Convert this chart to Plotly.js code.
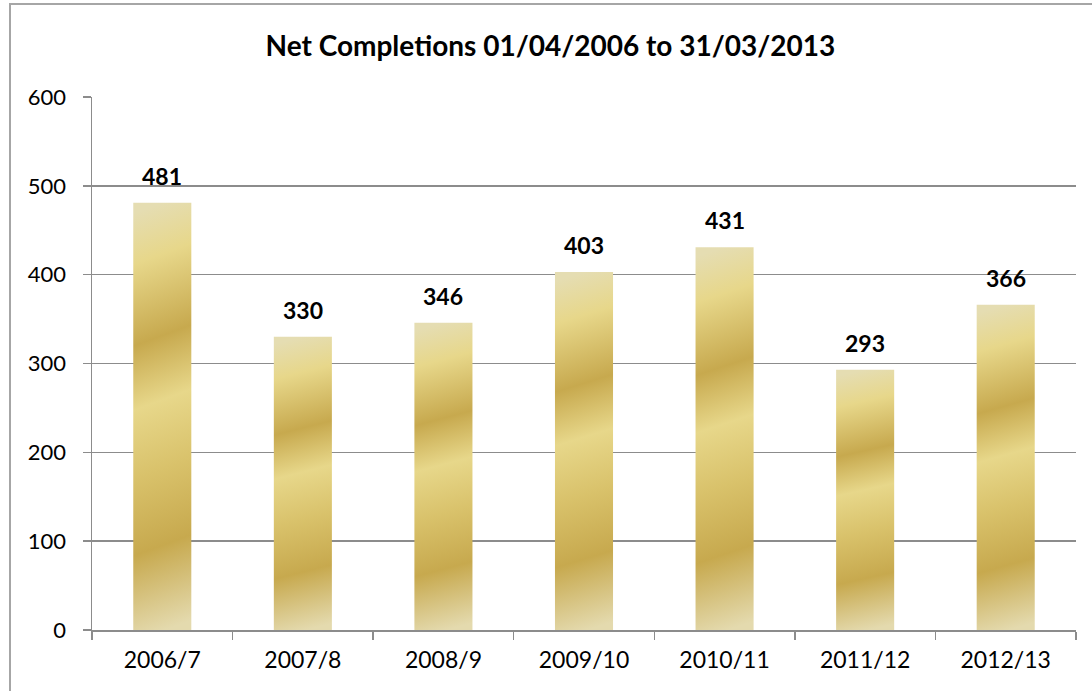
<!DOCTYPE html>
<html>
<head>
<meta charset="utf-8">
<script src="https://cdn.plot.ly/plotly-3.0.1.min.js"></script>
<style>
  html, body { margin: 0; padding: 0; background: #fff; }
  #chart { width: 1092px; height: 691px; }
</style>
</head>
<body>
<div id="chart"></div>
<script>
const categories = ["2006/7", "2007/8", "2008/9", "2009/10", "2010/11", "2011/12", "2012/13"];
const completions = [481, 330, 346, 403, 431, 293, 366];
const yTicks = [0, 100, 200, 300, 400, 500, 600];
const chartTitle = "Net Completions 01/04/2006 to 31/03/2013";

const L = 92, R = 16, T = 97, B = 61, W = 1092, H = 691;
const pw = W - L - R, ph = H - T - B;
const FONT = "Lato, 'Open Sans', sans-serif";

const trace = {
  type: "bar",
  x: categories,
  y: completions,
  cliponaxis: false,
  marker: { color: "#d6bd63", line: { width: 0 } },
  hoverinfo: "x+y"
};

const labelAnnotations = categories.map(function (c, i) {
  return {
    x: c, y: completions[i], xref: "x", yref: "y",
    text: "<b>" + completions[i] + "</b>",
    showarrow: false, yanchor: "bottom", yshift: 11,
    font: { family: FONT, size: 23, color: "#000" }
  };
});

const layout = {
  width: W, height: H,
  margin: { l: L, r: R, t: T, b: B, pad: 0 },
  paper_bgcolor: "#fff",
  plot_bgcolor: "#fff",
  bargap: 0.587,
  showlegend: false,
  title: {
    text: "<b>" + chartTitle + "</b>",
    x: 0.504, xanchor: "center",
    y: 1 - 46 / H, yanchor: "middle",
    font: { family: FONT, size: 28, color: "#000" }
  },
  xaxis: {
    type: "category",
    tickson: "boundaries",
    ticks: "outside", ticklen: 8, tickwidth: 1.5, tickcolor: "#8c8c8c",
    showline: true, linecolor: "#8c8c8c", linewidth: 1.5,
    showgrid: false,
    tickfont: { family: FONT, size: 23, color: "#000" },
    ticklabelstandoff: 9,
    fixedrange: true
  },
  yaxis: {
    range: [0, 600],
    tickvals: yTicks,
    ticktext: yTicks.map(String),
    ticks: "outside", ticklen: 8, tickwidth: 1.5, tickcolor: "#8c8c8c",
    showline: true, linecolor: "#8c8c8c", linewidth: 1.5,
    showgrid: true, gridcolor: "#8c8c8c", gridwidth: 1.5,
    zeroline: false,
    tickfont: { family: FONT, size: 22, color: "#000" },
    ticklabelstandoff: 12,
    fixedrange: true
  },
  annotations: labelAnnotations,
  shapes: [{
    type: "rect", xref: "paper", yref: "paper", layer: "below",
    x0: (10 - L) / pw, x1: (W + 20 - L) / pw,
    y0: -(B + 20) / ph, y1: (H - B - 4) / ph,
    line: { color: "#a6a6a6", width: 2 }, fillcolor: "rgba(0,0,0,0)"
  }]
};

Plotly.newPlot("chart", [trace], layout, { displayModeBar: false, staticPlot: true }).then(function (gd) {
  const svg = gd.querySelector("svg.main-svg");
  const ns = "http://www.w3.org/2000/svg";
  let defs = svg.querySelector("defs");
  if (!defs) { defs = document.createElementNS(ns, "defs"); svg.insertBefore(defs, svg.firstChild); }
  const grad = document.createElementNS(ns, "linearGradient");
  grad.setAttribute("id", "goldGrad");
  grad.setAttribute("x1", "0.5"); grad.setAttribute("y1", "0");
  grad.setAttribute("x2", "0.55"); grad.setAttribute("y2", "1");
  const stops = [
    [0, "#e5ddb2"], [0.12, "#e7d78a"], [0.31, "#c7a94e"], [0.46, "#e7d78a"],
    [0.62, "#d9c26b"], [0.80, "#c7a94e"], [1, "#e4daae"]
  ];
  stops.forEach(function (s) {
    const st = document.createElementNS(ns, "stop");
    st.setAttribute("offset", s[0]);
    st.setAttribute("stop-color", s[1]);
    grad.appendChild(st);
  });
  defs.appendChild(grad);
  gd.querySelectorAll(".barlayer .point path").forEach(function (p) {
    p.style.fill = "url(#goldGrad)";
  });
});
</script>
</body>
</html>
